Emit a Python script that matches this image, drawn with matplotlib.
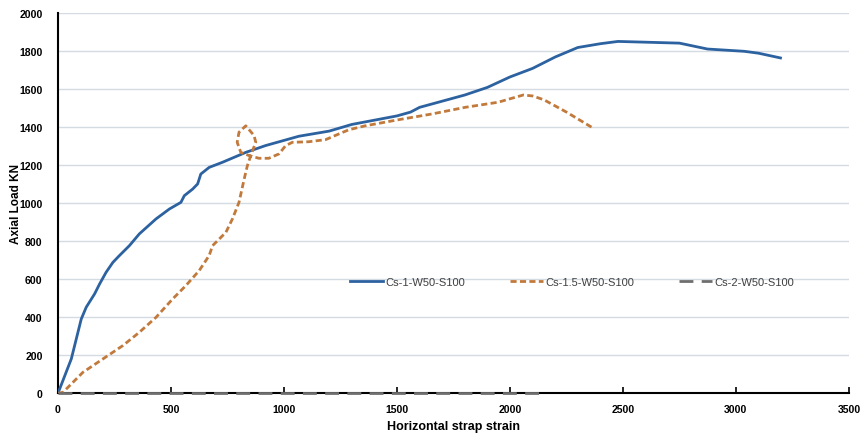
import matplotlib as mpl
import matplotlib.pyplot as plt

mpl.rcParams["font.family"] = ['Liberation Sans Narrow', 'Liberation Sans', 'DejaVu Sans']
mpl.rcParams["font.size"] = 8

# Cs-1-W50-S100
strain_1 = [0, 59, 103, 125, 162, 184, 213, 243, 272, 316, 360, 434, 493, 544, 559, 596, 618,
            632, 669, 728, 831, 919, 1066, 1200, 1300, 1500, 1560, 1600, 1800, 1900, 2000, 2100,
            2200, 2300, 2400, 2478, 2600, 2750, 2874, 3037, 3100, 3197]
load_1 = [0, 181, 391, 453, 523, 575, 637, 689, 725, 777, 839, 918, 970, 1005, 1040, 1075, 1102,
          1154, 1189, 1216, 1268, 1304, 1353, 1380, 1415, 1460, 1480, 1505, 1570, 1610, 1665, 1710,
          1770, 1820, 1840, 1852, 1848, 1843, 1812, 1800, 1790, 1765]

# Cs-1.5-W50-S100
strain_15 = [0, 22, 110, 287, 360, 434, 507, 566, 625, 669, 684, 743, 772, 801, 824, 838, 853,
             875, 868, 831, 801, 793, 809, 846, 889, 933, 978, 1007, 1037, 1110, 1184, 1243, 1287,
             1360, 1507, 1654, 1801, 1948, 2000, 2059, 2100, 2150, 2250, 2362]
load_15 = [0, 5, 110, 251, 321, 400, 496, 567, 646, 725, 777, 847, 918, 1005, 1128, 1198, 1251,
           1321, 1356, 1408, 1374, 1321, 1268, 1251, 1237, 1237, 1260, 1303, 1321, 1324, 1335, 1365,
           1387, 1408, 1440, 1470, 1505, 1532, 1550, 1570, 1565, 1545, 1480, 1400]

# Cs-2-W50-S100
strain_2 = [0, 2130]
load_2 = [0, 0]

fig = plt.figure(figsize=(8.64, 4.35), dpi=100)
ax = fig.add_axes([0.0671, 0.0936, 0.9155, 0.8735])

ax.plot(strain_1, load_1, '-', color='#2d62a0', lw=2, label='Cs-1-W50-S100', zorder=4)
ax.plot(strain_15, load_15, '--', color='#c17a3c', lw=2, dashes=(2.2, 1.2), label='Cs-1.5-W50-S100', zorder=4)
ax.plot(strain_2, load_2, '--', color='#6f6f6f', lw=2, dashes=(5, 3), label='Cs-2-W50-S100', zorder=5,
        clip_on=False)

ax.set_xlim(0, 3500)
ax.set_ylim(0, 2000)
ax.set_xticks(range(0, 3501, 500))
ax.set_yticks(range(0, 2001, 200))
ax.grid(axis='y', color='#d5dbe3', lw=1)
ax.set_axisbelow(True)

for s in ['top', 'right']:
    ax.spines[s].set_visible(False)
for s in ['left', 'bottom']:
    ax.spines[s].set_linewidth(1.5)
    ax.spines[s].set_color('black')

ax.tick_params(axis='x', direction='in', length=4, width=1.2, pad=8)
ax.tick_params(axis='y', length=0, pad=11)
for lab in ax.get_xticklabels() + ax.get_yticklabels():
    lab.set_fontweight('bold')
    lab.set_fontsize(7.6)

ax.set_xlabel('Horizontal strap strain', fontweight='bold', fontsize=9, labelpad=4)
ax.set_ylabel('Axial Load KN', fontweight='bold', fontsize=8.5)
ax.yaxis.set_label_coords(-0.046, 0.5)

leg = ax.legend(loc='center', bbox_to_anchor=(0.65, 0.294), ncol=3, frameon=False, fontsize=8,
                handlelength=3.0, handletextpad=0.2, columnspacing=4.0)
for t in leg.get_texts():
    t.set_color('#404040')

plt.savefig('out.png', dpi=100)
